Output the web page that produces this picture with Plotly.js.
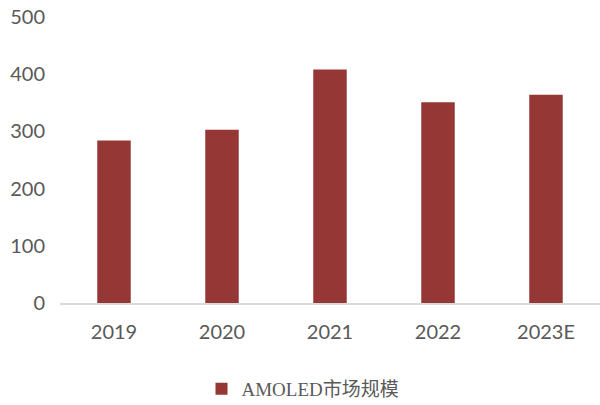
<!DOCTYPE html>
<html><head><meta charset="utf-8">
<script src="https://cdn.plot.ly/plotly-3.0.1.min.js"></script>
<style>html,body{margin:0;padding:0;background:#fff}#c{width:600px;height:405px}</style>
</head><body><div id="c"></div>
<script>
const categories = ["2019", "2020", "2021", "2022", "2023E"];
const values = [284, 303, 408, 351, 364];
const seriesName = "AMOLED市场规模";
const yTicks = [0, 100, 200, 300, 400, 500];

const trace = {
  type: "bar",
  x: categories,
  y: values,
  name: seriesName,
  marker: {color: "#953735"},
  showlegend: true
};
const layout = {
  width: 600, height: 405,
  margin: {l: 60, r: 0, t: 17, b: 102},
  paper_bgcolor: "#fff", plot_bgcolor: "#fff",
  bargap: 0.69,
  font: {family: "Lato, 'Open Sans', sans-serif", color: "#595959", size: 20},
  xaxis: {
    type: "category",
    showline: true, linecolor: "#d9d9d9", linewidth: 2,
    showgrid: false, ticks: "", ticklabelstandoff: 10,
    tickfont: {size: 20, color: "#595959"}
  },
  yaxis: {
    range: [0, 500], tickvals: yTicks, ticktext: yTicks.map(String),
    showgrid: false, zeroline: false, showline: false, ticks: "",
    ticklabelstandoff: 14,
    tickfont: {size: 20, color: "#595959"}
  },
  legend: {
    orientation: "h", x: 0.505, xanchor: "center", xref: "container",
    y: 0.04, yanchor: "middle", yref: "container",
    font: {family: "'Liberation Serif', 'Noto Sans CJK SC', serif", size: 19, color: "#595959"}
  },
  showlegend: true
};
Plotly.newPlot("c", [trace], layout, {displayModeBar: false, staticPlot: true});
</script></body></html>
